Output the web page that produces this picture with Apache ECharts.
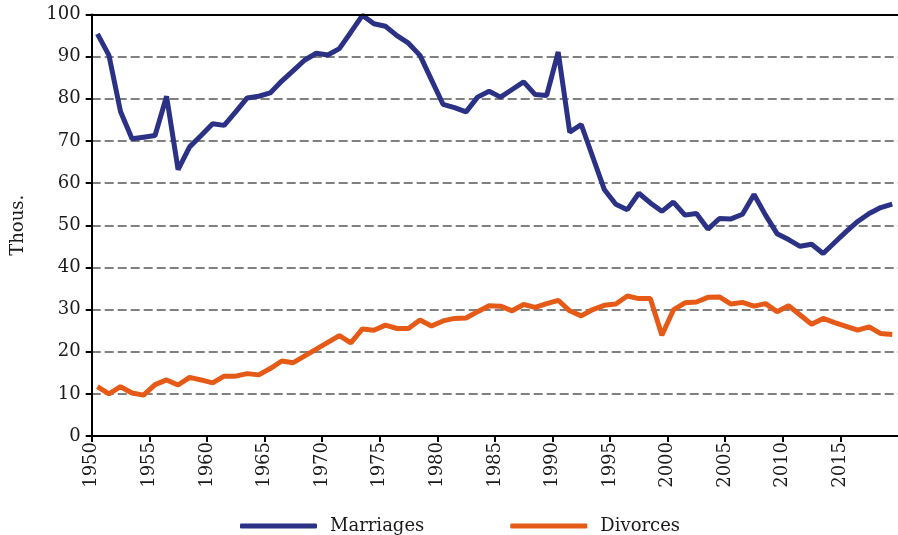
<!DOCTYPE html>
<html>
<head>
<meta charset="utf-8">
<script src="https://cdn.jsdelivr.net/npm/echarts@6/dist/echarts.min.js"></script>
<style>
  html, body { margin: 0; padding: 0; background: #fff; }
  #chart { width: 898px; height: 535px; }
</style>
</head>
<body>
<div id="chart"></div>
<script>
var years = [
  1950, 1951, 1952, 1953, 1954, 1955, 1956, 1957, 1958, 1959,
  1960, 1961, 1962, 1963, 1964, 1965, 1966, 1967, 1968, 1969,
  1970, 1971, 1972, 1973, 1974, 1975, 1976, 1977, 1978, 1979,
  1980, 1981, 1982, 1983, 1984, 1985, 1986, 1987, 1988, 1989,
  1990, 1991, 1992, 1993, 1994, 1995, 1996, 1997, 1998, 1999,
  2000, 2001, 2002, 2003, 2004, 2005, 2006, 2007, 2008, 2009,
  2010, 2011, 2012, 2013, 2014, 2015, 2016, 2017, 2018, 2019
];

var marriages = [
  95.4, 90.3, 77.0, 70.5, 70.9, 71.3, 80.6, 63.2, 68.6, 71.3,
  74.1, 73.7, 76.9, 80.2, 80.6, 81.4, 84.2, 86.7, 89.2, 90.8,
  90.4, 91.9, 95.8, 99.8, 97.8, 97.2, 95.0, 93.2, 90.3, 84.5,
  78.7, 77.9, 76.9, 80.4, 81.8, 80.4, 82.2, 84.0, 81.0, 80.8,
  91.1, 72.1, 73.9, 66.2, 58.5, 55.0, 53.7, 57.6, 55.3, 53.3,
  55.5, 52.4, 52.8, 49.1, 51.6, 51.5, 52.6, 57.3, 52.4, 48.0,
  46.6, 45.0, 45.5, 43.3, 45.9, 48.5, 50.9, 52.8, 54.2, 55.0
];

var divorces = [
  11.7, 10.0, 11.7, 10.2, 9.7, 12.2, 13.3, 12.1, 13.9, 13.3,
  12.6, 14.2, 14.2, 14.8, 14.5, 16.0, 17.8, 17.4, 19.0, 20.6,
  22.2, 23.8, 22.1, 25.4, 25.1, 26.3, 25.5, 25.5, 27.5, 26.1,
  27.3, 27.9, 28.0, 29.5, 30.9, 30.8, 29.7, 31.2, 30.5, 31.4,
  32.2, 29.7, 28.5, 30.0, 31.0, 31.3, 33.2, 32.6, 32.6, 23.9,
  29.9, 31.6, 31.8, 32.9, 33.0, 31.3, 31.7, 30.8, 31.4, 29.5,
  30.9, 28.7, 26.5, 27.9, 26.9, 26.0, 25.1, 25.9, 24.3, 24.1
];

var font = "DejaVu Serif";

// each year sits in the middle of its band, ticks are at band edges
function toPoints(values) {
  return values.map(function (v, i) { return [years[i] + 0.5, v]; });
}

var chart = echarts.init(document.getElementById("chart"));

chart.setOption({
  animation: false,
  textStyle: { fontFamily: font },
  grid: { left: 91.7, right: -4, top: 14.5, bottom: 99 },
  legend: {
    top: 512,
    left: 235,
    itemWidth: 77,
    itemHeight: 5,
    itemGap: 86,
    icon: "roundRect",
    textStyle: { fontFamily: font, fontSize: 18, color: "#1a1a1a", padding: [0, 0, 0, 8] },
    data: ["Marriages", "Divorces"]
  },
  xAxis: {
    type: "value",
    min: 1950,
    max: 2020,
    interval: 5,
    axisLine: { lineStyle: { color: "#000", width: 2 } },
    axisTick: { show: true, length: 6, lineStyle: { color: "#000", width: 2 } },
    axisLabel: {
      rotate: 90,
      margin: 6,
      fontFamily: font,
      fontSize: 18,
      color: "#1a1a1a",
      showMaxLabel: false,
      formatter: function (v) { return String(v); }
    },
    splitLine: { show: false }
  },
  yAxis: {
    type: "value",
    min: 0,
    max: 100,
    interval: 10,
    name: "Thous.",
    nameLocation: "middle",
    nameGap: 64,
    nameTextStyle: { fontFamily: font, fontSize: 18, color: "#1a1a1a" },
    axisLine: { show: true, lineStyle: { color: "#000", width: 2 } },
    axisTick: { show: true, length: 6, lineStyle: { color: "#000", width: 2 } },
    axisLabel: { margin: 11, fontFamily: font, fontSize: 18, color: "#1a1a1a" },
    splitLine: { lineStyle: { color: "#808080", width: 2, type: [9, 4] } }
  },
  series: [
    {
      name: "Marriages",
      type: "line",
      data: toPoints(marriages),
      showSymbol: false,
      color: "#2b3185",
      lineStyle: { width: 5 },
      z: 3,
      markLine: {
        silent: true,
        symbol: "none",
        label: { show: false },
        lineStyle: { color: "#000", width: 2, type: "solid" },
        data: [{ yAxis: 100 }]
      }
    },
    {
      name: "Divorces",
      type: "line",
      data: toPoints(divorces),
      showSymbol: false,
      color: "#e65a17",
      lineStyle: { width: 5 },
      z: 2
    }
  ]
});
</script>
</body>
</html>
